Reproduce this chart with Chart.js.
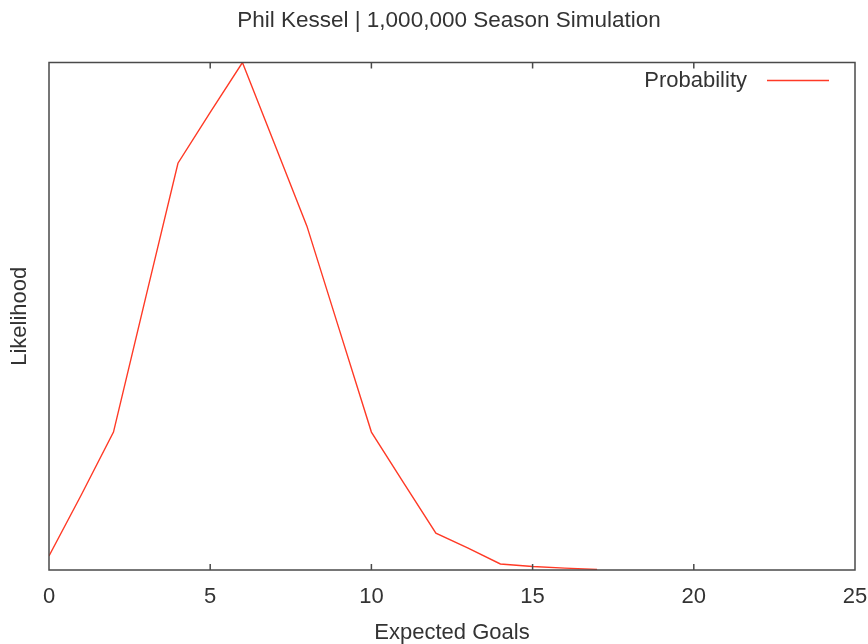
<!DOCTYPE html>
<html><head><meta charset="utf-8">
<script src="https://cdn.jsdelivr.net/npm/chart.js@4.4.0/dist/chart.umd.min.js"></script>
<style>html,body{margin:0;padding:0;background:#fff}</style>
</head><body>
<canvas id="c" width="868" height="644"></canvas>
<script>
const chartTitle = 'Phil Kessel | 1,000,000 Season Simulation';
const seriesLabel = 'Probability';
const goals = [0,1,2,3,4,5,6,7,8,9,10,11,12,13,14,15,16,17];
const likelihood = [0.0044,0.0236,0.0434,0.0858,0.1280,0.1440,0.1597,0.1340,0.1082,0.0758,0.0434,0.0274,0.0116,0.0069,0.0019,0.0011,0.0006,0.0002];
const xTickValues = [0,5,10,15,20,25];

const FONT = 'Liberation Sans, Arial, sans-serif';
const TEXT = '#333';
const RED = '#ff3a26';

const framePlugin = {
  id: 'frame',
  afterDatasetsDraw(chart) {
    const {ctx, chartArea: a, scales} = chart;
    ctx.save();
    ctx.strokeStyle = '#4a4a4a';
    ctx.lineWidth = 1.5;
    ctx.strokeRect(a.left, a.top, a.right - a.left, a.bottom - a.top);
    xTickValues.forEach(v => {
      if (v === scales.x.min || v === scales.x.max) return;
      const px = scales.x.getPixelForValue(v);
      ctx.beginPath();
      ctx.moveTo(px, a.bottom); ctx.lineTo(px, a.bottom - 6);
      ctx.moveTo(px, a.top); ctx.lineTo(px, a.top + 6);
      ctx.stroke();
    });
    // legend (text then line sample), top-right inside plot
    const ds = chart.data.datasets[0];
    const y = Math.round(a.top + 17) + 0.5;
    const lineRight = a.right - 26, lineLeft = lineRight - 62;
    ctx.strokeStyle = ds.borderColor;
    ctx.lineWidth = 1.5;
    ctx.beginPath(); ctx.moveTo(lineLeft, y); ctx.lineTo(lineRight, y); ctx.stroke();
    ctx.fillStyle = TEXT;
    ctx.font = '22px ' + FONT;
    ctx.textAlign = 'right';
    ctx.textBaseline = 'middle';
    ctx.fillText(ds.label, lineLeft - 20, y);
    ctx.restore();
  }
};

new Chart(document.getElementById('c'), {
  type: 'line',
  data: {
    datasets: [{
      label: seriesLabel,
      data: goals.map((g, i) => ({x: g, y: likelihood[i]})),
      borderColor: RED,
      backgroundColor: RED,
      borderWidth: 1.4,
      pointRadius: 0,
      tension: 0,
      fill: false
    }]
  },
  options: {
    responsive: false,
    animation: false,
    devicePixelRatio: 1,
    layout: {padding: {left: 30, right: 0, top: 0, bottom: 0}},
    plugins: {
      title: {
        display: true, text: chartTitle, color: TEXT,
        font: {family: FONT, size: 22.5, weight: 'normal', lineHeight: 1},
        padding: {top: 10, bottom: 30}
      },
      legend: {display: false},
      tooltip: {enabled: false}
    },
    scales: {
      x: {
        type: 'linear', min: 0, max: 25,
        afterBuildTicks(s) { s.ticks = xTickValues.map(v => ({value: v})); },
        afterFit(s) { s.height = 74; s.paddingRight = 13; s.paddingLeft = 0; },
        grid: {display: false, drawTicks: false},
        border: {display: false},
        ticks: {color: TEXT, font: {family: FONT, size: 22}, padding: 14, maxRotation: 0},
        title: {display: true, text: 'Expected Goals', color: TEXT,
          font: {family: FONT, size: 22, lineHeight: 1}, padding: {top: 0, bottom: 0}}
      },
      y: {
        type: 'linear', min: 0, max: 0.1597,
        afterFit(s) { s.width = 19; },
        grid: {display: false, drawTicks: false},
        border: {display: false},
        ticks: {display: false},
        title: {display: true, text: 'Likelihood', color: TEXT,
          font: {family: FONT, size: 22, lineHeight: 1}, padding: {top: -21, bottom: 0}}
      }
    }
  },
  plugins: [framePlugin]
});
</script>
</body></html>
